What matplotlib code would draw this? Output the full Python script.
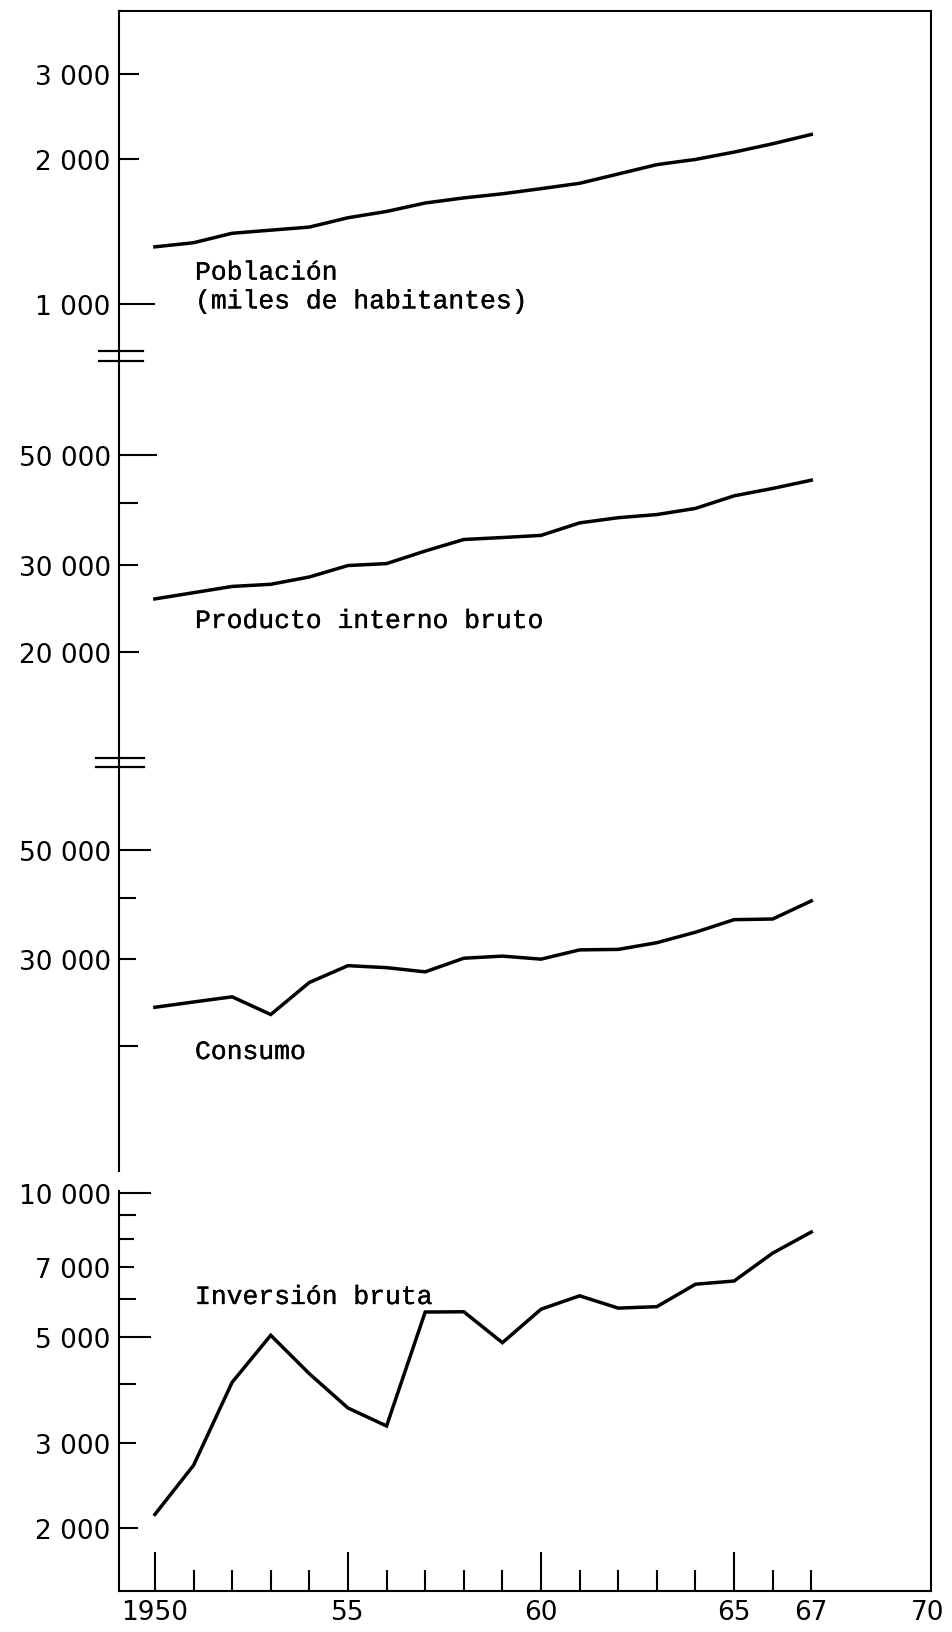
import numpy as np
import matplotlib.pyplot as plt
import matplotlib.patheffects as pe
from matplotlib.lines import Line2D
from matplotlib.ticker import NullLocator

# data (log scale, 1950-1967)
years = list(range(1950, 1968))

poblacion = [1314, 1340, 1402, 1423, 1444, 1510, 1556, 1620, 1660, 1693,
             1735, 1780, 1861, 1946, 1995, 2066, 2150, 2248]
pib = [25600, 26350, 27130, 27400, 28350, 29900, 30170, 31990, 33750, 34060,
       34400, 36460, 37350, 37900, 39000, 41350, 42800, 44470]
consumo = [23950, 24550, 25150, 23150, 26900, 29100, 28830, 28270, 30130, 30430,
           30000, 31330, 31400, 32400, 34030, 36090, 36200, 39400]
inversion = [2133, 2700, 4025, 5046, 4195, 3557, 3263, 5643, 5650, 4870,
             5720, 6100, 5750, 5790, 6450, 6550, 7490, 8290]

series_names = ['Población\n(miles de habitantes)', 'Producto interno bruto',
                'Consumo', 'Inversión bruta']

pob_ticks = [1000, 2000, 3000]
pob_labels = ['1 000', '2 000', '3 000']
pib_ticks = [20000, 30000, 40000, 50000]
pib_labels = ['20 000', '30 000', '', '50 000']
cons_ticks = [20000, 30000, 40000, 50000]
cons_labels = ['', '30 000', '', '50 000']
inv_ticks = [2000, 3000, 4000, 5000, 6000, 7000, 8000, 9000, 10000]
inv_labels = ['2 000', '3 000', '', '5 000', '', '7 000', '', '', '10 000']

x_ticks = list(range(1950, 1968)) + [1970]
x_labels = ['1950', '', '', '', '', '55', '', '', '', '', '60',
            '', '', '', '', '65', '', '67', '70']
x_major = [1950, 1955, 1960, 1965]

# layout, in pixels of the 953x1633 figure
W, H = 953, 1633
x_left, x_right = 119, 931
xlim = (1949.07, 1970.1)
tick_font = 'DejaVu Sans'
text_font = 'Liberation Mono'


def px_axes(top, bottom):
    return fig.add_axes([x_left / W, 1 - bottom / H,
                         (x_right - x_left) / W, (bottom - top) / H])


fig = plt.figure(figsize=(W / 100, H / 100), dpi=100)
fig.patch.set_facecolor('white')

# outer frame with the year axis
frame = px_axes(12, 1592)
frame.set_xlim(xlim)
frame.set_ylim(0, 1)
frame.set_yticks([])
for side in ['top', 'right', 'bottom']:
    frame.spines[side].set_linewidth(1.5)
frame.spines['left'].set_visible(False)
# left axis has a small gap between consumo and inversion
frame.axvline(xlim[0], ymin=(1592 - 1172) / 1580, ymax=1, color='k', lw=1.5, clip_on=False)
frame.axvline(xlim[0], ymin=0, ymax=(1592 - 1192) / 1580, color='k', lw=1.5, clip_on=False)

frame.set_xticks(x_ticks, labels=x_labels)
frame.tick_params(axis='x', direction='in', length=15, width=1.5, pad=6,
                  labelsize=19)
for t, yr in zip(frame.xaxis.get_major_ticks(), x_ticks):
    if yr in x_major:
        t.tick1line.set_markersize(28)
    if yr == 1970:
        t.tick1line.set_markersize(0)
for lab in frame.get_xticklabels():
    lab.set_fontfamily(tick_font)

# one log panel per series: (values, anchor value, anchor px, px per decade, top, bottom)
panels = [
    (poblacion, 1000, 305, 482, 12, 357, pob_ticks, pob_labels, [26, 14.5, 14.5]),
    (pib, 50000, 456, 495, 357, 764, pib_ticks, pib_labels, [14.5, 13.5, 13.5, 27]),
    (consumo, 50000, 851, 492, 764, 1172, cons_ticks, cons_labels, [14, 12, 12, 23]),
    (inversion, 10000, 1194, 479, 1172, 1592, inv_ticks, inv_labels,
     [14, 12, 12, 23, 12, 11, 11, 12, 23]),
]

for vals, a_val, a_px, k, top, bottom, ticks, labels, lengths in panels:
    ax = px_axes(top, bottom)
    ax.set_yscale('log')
    lo = 10 ** (np.log10(a_val) - (bottom - a_px) / k)
    hi = 10 ** (np.log10(a_val) + (a_px - top) / k)
    ax.set_ylim(lo, hi)
    ax.set_xlim(xlim)
    ax.plot(years, vals, color='black', lw=2.5, solid_joinstyle='miter')
    ax.set_yticks(ticks, labels=labels)
    ax.yaxis.set_minor_locator(NullLocator())
    ax.tick_params(axis='y', direction='in', length=13, width=1.5, pad=6,
                   labelsize=19)
    for t, ln in zip(ax.yaxis.get_major_ticks(), lengths):
        t.tick1line.set_markersize(ln)
    for lab in ax.get_yticklabels():
        lab.set_fontfamily(tick_font)
    ax.set_xticks([])
    for s in ax.spines.values():
        s.set_visible(False)
    ax.patch.set_alpha(0)

# axis break marks
for y in [352, 362]:
    fig.add_artist(Line2D([99 / W, 143 / W], [1 - y / H] * 2, color='k', lw=1.6))
for y in [759, 768]:
    fig.add_artist(Line2D([96 / W, 144 / W], [1 - y / H] * 2, color='k', lw=1.6))

# series labels (typewriter look, a touch heavier than the plain font)
heavy = [pe.withStroke(linewidth=0.25, foreground='black')]
for name, y in zip(series_names, [288, 622, 1053, 1298]):
    fig.text(195 / W, 1 - y / H, name, family=text_font, fontsize=19,
             va='center', ha='left', linespacing=1.25, path_effects=heavy)

plt.savefig('out.png', dpi=100)
